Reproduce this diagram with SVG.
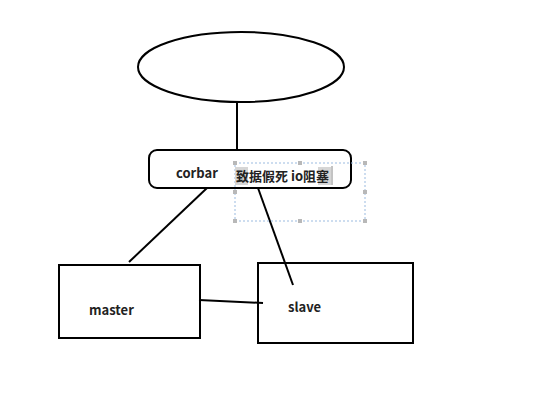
<svg xmlns="http://www.w3.org/2000/svg" width="546" height="418" viewBox="0 0 546 418">
<style>
.shape{fill:none;stroke:#000;stroke-width:2}
.conn{fill:none;stroke:#000;stroke-width:2}
.lbl{font-family:"Noto Sans CJK SC","Noto Sans",sans-serif;font-weight:bold;font-size:13px;fill:#222}
.sel{fill:none;stroke:#9bbbe0;stroke-width:1;stroke-dasharray:2 2}
.h{fill:#b8b8b8}
.hl{fill:#d6d6d6}
</style>
<rect width="546" height="418" fill="#fff"/>
<g id="connectors">
<line class="conn" x1="237" y1="102" x2="237" y2="150"/>
<line class="conn" x1="207" y1="188" x2="129" y2="262"/>
<line class="conn" x1="258" y1="188" x2="293" y2="285"/>
<line class="conn" x1="199" y1="300" x2="263" y2="303"/>
</g>
<g id="ellipse"><ellipse class="shape" cx="241" cy="67" rx="103" ry="35"/></g>
<g id="corbar">
<rect class="shape" x="149" y="150" width="202" height="38" rx="8"/>
<text class="lbl" x="176" y="178">corbar</text>
</g>
<g id="note">
<rect class="sel" x="235" y="163" width="130" height="58"/>
<rect class="h" x="233" y="161" width="4" height="4"/><rect class="h" x="298" y="161" width="4" height="4"/><rect class="h" x="363" y="161" width="4" height="4"/>
<rect class="h" x="233" y="190" width="4" height="4"/><rect class="h" x="363" y="190" width="4" height="4"/>
<rect class="h" x="233" y="219" width="4" height="4"/><rect class="h" x="298" y="219" width="4" height="4"/><rect class="h" x="363" y="219" width="4" height="4"/>
<rect class="hl" x="235" y="167" width="13" height="18"/>
<rect class="hl" x="318" y="167" width="13" height="18"/>
<text class="lbl" x="236" y="181">致据假死 io阻塞</text>
<line x1="332" y1="166" x2="332" y2="185" stroke="#888" stroke-width="1"/>
</g>
<g id="master">
<rect class="shape" x="59" y="265" width="141" height="73"/>
<text class="lbl" x="89" y="315">master</text>
</g>
<g id="slave">
<rect class="shape" x="258" y="263" width="155" height="80"/>
<text class="lbl" x="288" y="312">slave</text>
</g>
</svg>
